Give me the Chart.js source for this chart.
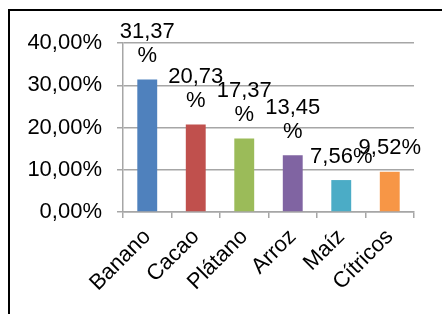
<!DOCTYPE html>
<html lang="es">
<head>
    <meta charset="UTF-8">
    <title>Cultivos</title>
    <script src="https://cdn.jsdelivr.net/npm/chart.js"></script>
    <style>
        html, body { margin: 0; padding: 0; background: #fff; overflow: hidden; }
        .wrap { position: relative; width: 442px; height: 314px; }
        .frame {
            position: absolute; left: 8px; top: 9px; width: 520px; height: 400px;
            border: 2px solid #000;
        }
        canvas { position: absolute; left: 0; top: 0; }
    </style>
</head>
<body>
    <div class="wrap">
        <div class="frame"></div>
        <canvas id="chart" width="442" height="314"></canvas>
    </div>

    <script>
        // Data
        const cultivos = ['Banano', 'Cacao', 'Plátano', 'Arroz', 'Maíz', 'Cítricos'];
        const porcentajes = [31.37, 20.73, 17.37, 13.45, 7.56, 9.52];
        const etiquetas = ['31,37\n%', '20,73\n%', '17,37\n%', '13,45\n%', '7,56%', '9,52%'];
        const colores = ['#4f81bd', '#c0504d', '#9bbb59', '#8064a2', '#4bacc6', '#f79646'];

        const FONT = '"Liberation Sans", Arial, sans-serif';
        const GRID = '#a6a6a6';
        const SIZE = 22;

        // draw the value labels above each bar
        const valueLabels = {
            id: 'valueLabels',
            afterDatasetsDraw(chart) {
                const ctx = chart.ctx;
                const meta = chart.getDatasetMeta(0);
                ctx.save();
                ctx.font = SIZE + 'px ' + FONT;
                ctx.fillStyle = '#000';
                ctx.textAlign = 'center';
                ctx.textBaseline = 'alphabetic';
                meta.data.forEach((bar, i) => {
                    const lines = etiquetas[i].split('\n');
                    lines.forEach((line, j) => {
                        const y = bar.y - 17.5 - (lines.length - 1 - j) * 24;
                        ctx.fillText(line, bar.x, y);
                    });
                });
                ctx.restore();
            }
        };

        new Chart(document.getElementById('chart'), {
            type: 'bar',
            data: {
                labels: cultivos,
                datasets: [{
                    data: porcentajes,
                    backgroundColor: colores,
                    barPercentage: 0.41,
                    categoryPercentage: 1
                }]
            },
            options: {
                responsive: false,
                animation: false,
                layout: { padding: { top: 43, right: 28, bottom: 0, left: 0 } },
                plugins: { legend: { display: false }, tooltip: { enabled: false } },
                scales: {
                    x: {
                        grid: { offset: true, drawOnChartArea: false, drawTicks: true, tickLength: 6, color: GRID, lineWidth: 1.5 },
                        border: { color: GRID, width: 1.5 },
                        ticks: {
                            color: '#000', font: { size: SIZE, family: FONT },
                            minRotation: 45, maxRotation: 45, autoSkip: false, padding: 6
                        },
                        afterFit(scale) { scale.height = 102; }
                    },
                    y: {
                        min: 0, max: 40,
                        grid: { color: GRID, lineWidth: 1.5, tickLength: 6 },
                        border: { color: GRID, width: 1.5 },
                        ticks: {
                            stepSize: 10, color: '#000', padding: 15,
                            font: { size: SIZE, family: FONT },
                            callback: v => v.toFixed(2).replace('.', ',') + '%'
                        },
                        afterFit(scale) { scale.width = 123; }
                    }
                }
            },
            plugins: [valueLabels]
        });
    </script>
</body>
</html>
